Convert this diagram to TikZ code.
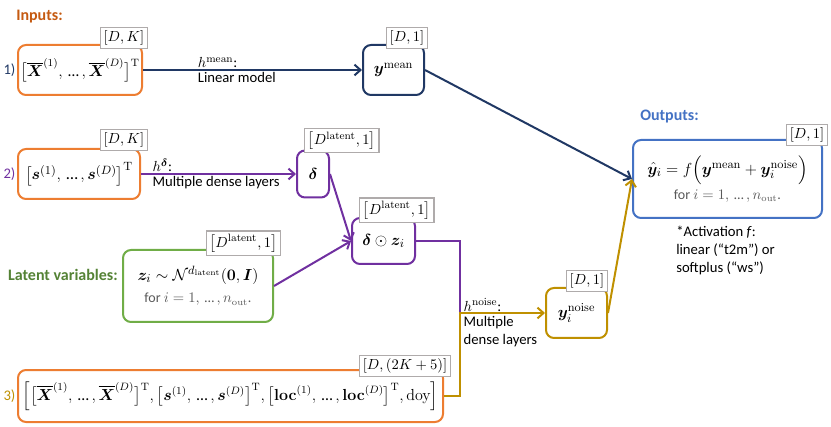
\documentclass[tikz,border=0pt]{standalone}
\usepackage{amsmath}
\usepackage{bm}
\usepackage[no-math]{fontspec}
\setmainfont{Carlito}
\usetikzlibrary{arrows.meta, calc}

\definecolor{inorange}{HTML}{ED7D31}
\definecolor{headorange}{HTML}{C55A11}
\definecolor{meannavy}{HTML}{203864}
\definecolor{latpurple}{HTML}{7030A0}
\definecolor{latgreen}{HTML}{70AD47}
\definecolor{headgreen}{HTML}{548235}
\definecolor{noisegold}{HTML}{BF9000}
\definecolor{outblue}{HTML}{4472C4}
\definecolor{taggray}{HTML}{AFABAB}
\definecolor{forgray}{HTML}{595959}

\newcommand{\dts}{\,\text{…}\,}

\begin{document}
\begin{tikzpicture}[x=0.75pt,y=-0.75pt, font=\fontsize{11}{13.5}\selectfont,
	box/.style={draw, line width=1.5pt, rounded corners=6pt, fill=white, inner sep=0pt, font=\fontsize{12.5}{15}\selectfont},
	tag/.style={draw=taggray, fill=white, line width=0.8pt, inner sep=2.5pt, minimum height=15pt, font=\fontsize{11}{13}\selectfont},
	link/.style={line width=1.5pt},
	arrow/.style={link, -{Straight Barb[length=4.5pt, width=8pt, line width=1.5pt]}},
	head/.style={font=\bfseries\fontsize{12}{14}\selectfont, inner sep=0pt}]

	\useasboundingbox (0,0) rectangle (831,427);

	\node[head, anchor=west, text=headorange] (inputs) at (16,17) {Inputs:};
	\node[head, anchor=west, text=outblue] (outputs) at (640,117) {Outputs:};
	\node[head, anchor=east, text=headgreen] (latentlbl) at (118,275) {Latent variables:};

	\node[box, draw=inorange, minimum width=93pt, minimum height=37.5pt, font=\fontsize{11.8}{15}\selectfont] (feat) at (80,70) {$\bigl[\overline{\bm{X}}^{(1)},\dts,\overline{\bm{X}}^{(D)}\bigr]^{\mathrm{T}}$};
	\node[box, draw=meannavy, minimum width=45.75pt, minimum height=37.5pt] (ymean) at (393.5,70) {$\bm{y}^{\mathrm{mean}}$};
	\node[box, draw=inorange, minimum width=91.5pt, minimum height=37.5pt] (stat) at (79,174) {$\bigl[\bm{s}^{(1)},\dts,\bm{s}^{(D)}\bigr]^{\mathrm{T}}$};
	\node[box, draw=latpurple, minimum width=24pt, minimum height=35.25pt] (delta) at (313,174) {$\bm{\delta}$};
	\node[box, draw=latpurple, minimum width=47.25pt, minimum height=34.5pt] (dz) at (383.5,241) {$\bm{\delta}\odot\bm{z}_i$};
	\node[box, draw=latgreen, minimum width=112.5pt, minimum height=54pt, align=center] (latent) at (198,286) {$\bm{z}_i \sim \mathcal{N}^{d_{\mathrm{latent}}}(\bm{0},\bm{I})$\\[2pt]{\fontsize{10.5}{13}\selectfont\color{forgray}for $i=1,\dts,n_{\mathrm{out}}$.}};
	\node[box, draw=noisegold, minimum width=45.75pt, minimum height=37.5pt] (ynoise) at (576.5,313) {$\bm{y}_i^{\mathrm{noise}}$};
	\node[box, draw=outblue, minimum width=141.75pt, minimum height=58.5pt, align=center] (output) at (727.5,179) {$\hat{\bm{y}}_i = f\Bigl(\bm{y}^{\mathrm{mean}}+\bm{y}_i^{\mathrm{noise}}\Bigr)$\\[3pt]{\fontsize{10.5}{13}\selectfont\color{forgray}for $i=1,\dts,n_{\mathrm{out}}$.}};
	\node[box, draw=inorange, minimum width=318.75pt, minimum height=39pt, font=\fontsize{12}{15}\selectfont] (inall) at (230.5,396) {$\Bigl[\bigl[\overline{\bm{X}}^{(1)},\dts,\overline{\bm{X}}^{(D)}\bigr]^{\mathrm{T}},\bigl[\bm{s}^{(1)},\dts,\bm{s}^{(D)}\bigr]^{\mathrm{T}},\bigl[\mathbf{loc}^{(1)},\dts,\mathbf{loc}^{(D)}\bigr]^{\mathrm{T}},\mathrm{doy}\Bigr]$};

	\node[anchor=east, inner sep=1pt, text=meannavy] (num1) at (feat.west) {1)};
	\node[anchor=east, inner sep=1pt, text=latpurple] (num2) at (stat.west) {2)};
	\node[anchor=east, inner sep=1pt, text=noisegold] (num3) at (inall.west) {3)};

	\node[tag, anchor=south east] (feattag) at ($(feat.north east)+(5,5)$) {$[D,K]$};
	\node[tag, anchor=south east] (ymeantag) at ($(ymean.north east)+(3,5)$) {$[D,1]$};
	\node[tag, anchor=south east] (stattag) at ($(stat.north east)+(7,3)$) {$[D,K]$};
	\node[tag, anchor=south west] (deltatag) at ($(delta.north west)+(8,4)$) {$\bigl[D^{\mathrm{latent}},1\bigr]$};
	\node[tag, anchor=south west] (dztag) at ($(dz.north west)+(8,6)$) {$\bigl[D^{\mathrm{latent}},1\bigr]$};
	\node[tag, anchor=south east] (latenttag) at ($(latent.north east)+(7,7)$) {$\bigl[D^{\mathrm{latent}},1\bigr]$};
	\node[tag, anchor=south east] (ynoisetag) at ($(ynoise.north east)+(0,5)$) {$[D,1]$};
	\node[tag, anchor=south east] (outputtag) at ($(output.north east)+(5,7)$) {$[D,1]$};
	\node[tag, anchor=south east] (inalltag) at ($(inall.north east)+(7,8)$) {$[D,(2K+5)]$};

	\coordinate (merge) at (460,313);

	\draw[arrow, draw=meannavy] (feat) -- (ymean)
		node[pos=0.24, anchor=south west, inner sep=1pt] (meanlbl) {$h^{\mathrm{mean}}$:}
		node[pos=0.24, anchor=north west, inner sep=1pt] (linlbl) {Linear model};
	\draw[arrow, draw=latpurple] (stat) -- (delta)
		node[pos=0.06, anchor=south west, inner sep=1pt] (deltalbl) {$h^{\bm{\delta}}$:}
		node[pos=0.06, anchor=north west, inner sep=1pt] (denselbl) {Multiple dense layers};
	\draw[arrow, draw=latpurple] (delta.east) -- (dz.west);
	\draw[arrow, draw=latpurple] (latent.east) -- (dz.west);
	\draw[link, draw=latpurple] (dz.east) -| (merge);
	\draw[arrow, draw=noisegold] (inall.east) -| (merge) -- (ynoise.west);
	\draw[arrow, draw=meannavy] (ymean.east) -- (output.west);
	\draw[arrow, draw=noisegold] (ynoise.east) -- (output.west);

	\node[anchor=south west, inner sep=1pt] (noiselbl) at ($(merge)+(2,0)$) {$h^{\mathrm{noise}}$:};
	\node[anchor=north west, inner sep=1pt, align=left] (noisedense) at ($(merge)+(2,2)$) {Multiple\\dense layers};
	\node[anchor=north west, inner sep=0pt, align=left] (actnote) at (676,226) {*Activation \textit{f}:\\linear (“t2m”) or\\softplus (“ws”)};

\end{tikzpicture}
\end{document}
